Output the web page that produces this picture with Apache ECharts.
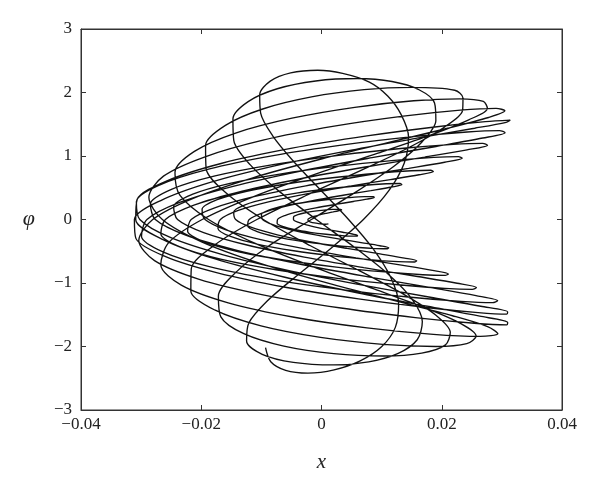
<!DOCTYPE html>
<html>
<head>
<meta charset="utf-8">
<script src="https://cdn.jsdelivr.net/npm/echarts@6/dist/echarts.min.js"></script>
<style>html,body{margin:0;padding:0;background:#fff}#c{width:600px;height:483px}</style>
</head>
<body>
<div id="c"></div>
<script>
// Axis ticks
const xTicks = [-0.04, -0.02, 0, 0.02, 0.04];
const yTicks = [-3, -2, -1, 0, 1, 2, 3];

// Trajectory (x, φ), in time order
const innerLoops = [
  [0.00115,-0.07],[0.00105,-0.0742],[0.00072,-0.0751],[0.00018,-0.0723],[-0.00049,-0.0654],[-0.0012,-0.0545],[-0.0018,-0.0397],[-0.0022,-0.0213],[-0.00226,0],[-0.00195,0.0235],[-0.00128,0.0483],[-0.00031,0.0733],[0.00081,0.0972],[0.00191,0.119],[0.00281,0.1375],[0.00334,0.1514],[0.00336,0.16],
  [0.00287,0.1631],[0.00186,0.1594],[0.00045,0.1487],[-0.00115,0.1308],[-0.0027,0.1063],[-0.00394,0.0756],[-0.00465,0.0398],[-0.00466,0],[-0.00393,-0.0422],[-0.00252,-0.0852],[-0.00061,-0.1271],[0.00152,-0.1662],[0.00354,-0.2006],[0.00513,-0.2287],[0.00599,-0.2489],[0.00596,-0.26],
  [0.00499,-0.2612],[0.00318,-0.2518],[0.00076,-0.2318],[-0.0019,-0.2015],[-0.00441,-0.1618],[-0.00634,-0.1139],[-0.00738,-0.0593],[-0.00731,0],[-0.00609,0.0617],[-0.00385,0.1234],[-0.00092,0.1827],[0.00229,0.2369],[0.00528,0.2838],[0.00757,0.321],[0.00877,0.347],[0.00865,0.36],
  [0.00716,0.3593],[0.00451,0.3441],[0.00107,0.315],[-0.00265,0.2722],[-0.00607,0.2174],[-0.00866,0.1521],[-0.00999,0.0788],[-0.00981,0],[-0.0081,-0.0812],[-0.00509,-0.1617],[-0.00121,-0.2382],[0.00298,-0.3076],[0.00682,-0.3669],[0.00971,-0.4134],[0.01118,-0.4451],[0.01096,-0.46],
  [0.00903,-0.4577],[0.00566,-0.4374],[0.00134,-0.3992],[-0.00329,-0.3442],[-0.00753,-0.2741],[-0.0107,-0.1914],[-0.01228,-0.0989],[-0.01202,0],[-0.00989,0.1015],[-0.0062,0.2016],[-0.00146,0.2965],[0.0036,0.382],[0.00821,0.4548],[0.01166,0.5115],[0.01337,0.5495],[0.01307,0.567]
];
const growingLoops = [
  [0.01077,0.5624],[0.00674,0.5358],[0.00159,0.4875],[-0.00392,0.4192],[-0.00895,0.3329],[-0.01272,0.2318],[-0.0146,0.1194],[-0.01428,0],[-0.01175,-0.1219],[-0.00735,-0.2416],[-0.00173,-0.3544],[0.00427,-0.4556],[0.00973,-0.5411],[0.01381,-0.6071],[0.01584,-0.6508],[0.01548,-0.67],
  [0.01274,-0.6636],[0.00797,-0.6313],[0.00188,-0.5737],[-0.00463,-0.4925],[-0.01057,-0.3906],[-0.015,-0.2716],[-0.01722,-0.1398],[-0.01682,0],[-0.01384,0.1423],[-0.00865,0.2818],[-0.00204,0.4127],[0.00502,0.53],[0.01144,0.6287],[0.01622,0.7047],[0.01861,0.7546],[0.01817,0.776],
  [0.01492,0.7675],[0.00931,0.729],[0.00219,0.6615],[-0.00538,0.5671],[-0.01225,0.4492],[-0.01735,0.3119],[-0.01986,0.1603],[-0.01937,0],[-0.01589,-0.1628],[-0.00992,-0.3218],[-0.00233,-0.4709],[0.00573,-0.6039],[0.01303,-0.7155],[0.01845,-0.801],[0.0211,-0.8567],[0.02057,-0.88],
  [0.01686,-0.8699],[0.01052,-0.8258],[0.00247,-0.7489],[-0.00606,-0.6417],[-0.01377,-0.508],[-0.01947,-0.3526],[-0.02227,-0.1811],[-0.02168,0],[-0.01776,0.1838],[-0.01107,0.3631],[-0.0026,0.5309],[0.00637,0.6806],[0.01449,0.806],[0.02047,0.902],[0.02341,0.9642],[0.02278,0.99],
  [0.01866,0.9778],[0.01164,0.9274],[0.00273,0.8403],[-0.0067,0.7195],[-0.01522,0.5691],[-0.02152,0.3947],[-0.02459,0.2025],[-0.02394,0],[-0.0196,-0.2052],[-0.01222,-0.4052],[-0.00287,-0.592],[0.00703,-0.7584],[0.01597,-0.8975],[0.02256,-1.0036],[0.02578,-1.0721],[0.02509,-1.10],
  [0.02051,-1.085],[0.01276,-1.0278],[0.00299,-0.9303],[-0.00732,-0.7955],[-0.0166,-0.6285],[-0.02342,-0.4353],[-0.02672,-0.2232],[-0.02596,0],[-0.02122,0.2256],[-0.0132,0.4449],[-0.00309,0.6494],[0.00757,0.8308],[0.01716,0.9822],[0.02421,1.0971],[0.02761,1.1709],[0.02682,1.20],
  [0.02192,1.1837],[0.01363,1.1214],[0.00319,1.0149],[-0.00781,0.868],[-0.0177,0.6858],[-0.02496,0.475],[-0.02846,0.2435],[-0.02764,0],[-0.02259,-0.2462],[-0.01404,-0.4856],[-0.00329,-0.7087],[0.00804,-0.9069],[0.01823,-1.0721],[0.0257,-1.1976],[0.0293,-1.2781],[0.02845,-1.31],
  [0.02323,-1.2903],[0.01442,-1.2207],[0.00338,-1.1033],[-0.00824,-0.9422],[-0.01866,-0.7434],[-0.02628,-0.5143],[-0.02994,-0.2633],[-0.02903,0],[-0.0237,0.2655],[-0.01471,0.5229],[-0.00344,0.7622],[0.00841,0.974],[0.01904,1.1501],[0.02681,1.2831],[0.03053,1.3676],[0.02961,1.40],
  [0.02422,1.3786],[0.01521,1.3039],[0.0039,1.1781],[-0.00802,1.0059],[-0.01878,0.7935],[-0.02676,0.5487],[-0.03079,0.2808],[-0.03022,0],[-0.02515,-0.283],[-0.01632,-0.5573],[-0.00503,-0.8122],[0.00705,-1.0377],[0.0181,-1.2249],[0.02649,-1.3663],[0.03096,-1.4559],[0.03081,-1.49],
  [0.02605,-1.466],[0.0174,-1.3853],[0.00615,-1.2507],[-0.00602,-1.0669],[-0.0173,-0.8408],[-0.02602,-0.581],[-0.03087,-0.2971],[-0.03112,0],[-0.02673,0.2989],[-0.01837,0.5882],[-0.00725,0.8565],[0.00495,1.0934],[0.01643,1.2896],[0.02547,1.4372],[0.03071,1.5304],[0.03139,1.565]
];
const wideningLoops = [
  [0.02724,1.5407],[0.01885,1.4569],[0.00755,1.3161],[-0.00489,1.1234],[-0.01655,0.886],[-0.0256,0.6125],[-0.03066,0.3134],[-0.0309,0],[-0.02636,-0.3158],[-0.01769,-0.6217],[-0.00626,-0.9058],[0.00614,-1.157],[0.01759,-1.3655],[0.02632,-1.5227],[0.03096,-1.6223],[0.03081,-1.66],
  [0.0254,-1.6336],[0.01561,-1.5441],[0.00323,-1.3943],[-0.00953,-1.1897],[-0.02046,-0.9379],[-0.02777,-0.6482],[-0.03039,-0.3316],[-0.02807,0],[-0.02134,0.3337],[-0.01142,0.6568],[0.00012,0.9567],[0.01152,1.2215],[0.02117,1.4411],[0.02778,1.6065],[0.0305,1.7109],[0.02903,1.75],
  [0.02309,1.7219],[0.01361,1.6273],[0.00211,1.4692],[-0.00955,1.2533],[-0.01936,0.9879],[-0.02628,0.6827],[-0.02871,0.3491],[-0.02647,0],[-0.01995,-0.3513],[-0.0102,-0.6913],[0.00122,-1.0067],[0.01247,-1.2852],[0.02179,-1.5159],[0.02772,-1.6896],[0.02933,-1.7992],[0.02642,-1.84],
  [0.01861,-1.8084],[0.00756,-1.7069],[-0.00458,-1.5393],[-0.01552,-1.3117],[-0.02332,-1.0327],[-0.02673,-0.7128],[-0.02542,-0.3641],[-0.01985,0],[-0.01118,0.3656],[-0.0009,0.7185],[0.00939,1.0452],[0.01822,1.3329],[0.02449,1.5705],[0.02759,1.7485],[0.02692,1.8599],[0.02297,1.90],
  [0.01535,1.8697],[0.00553,1.767],[-0.00491,1.5955],[-0.01429,1.3612],[-0.02114,1.073],[-0.02437,0.7415],[-0.02353,0.3792],[-0.01878,0],[-0.01092,-0.3817],[-0.00122,-0.751],[0.00873,-1.0938],[0.01738,-1.3965],[0.02333,-1.6474],[0.02572,-1.8363],[0.02416,-1.9555],[0.01897,-2.00],
  [0.01019,-1.9665],[-0.00016,-1.857],[-0.01006,-1.6755],[-0.01768,-1.4283],[-0.02173,-1.1251],[-0.02166,-0.7769],[-0.0177,-0.397],[-0.01075,0],[-0.00209,0.399],[0.00684,0.7845],[0.01471,1.1417],[0.02048,1.4566],[0.02346,1.7171],[0.02353,1.9125],[0.02216,2.0352],[0.01505,2.08]
];
const figureEightLoops = [
  [0.00708,2.0444],[-0.00166,1.9298],[-0.00978,1.7404],[-0.01598,1.4831],[-0.01928,1.1678],[-0.0192,0.8061],[-0.0158,0.4118],[-0.00968,0],[-0.00184,-0.4135],[0.00642,-0.8128],[0.01376,-1.1824],[0.01904,-1.5079],[0.02142,-1.7768],[0.02057,-1.9783],[0.01667,-2.1044],[0.0104,-2.15],
  [0.00204,-2.1131],[-0.00626,-1.9945],[-0.01292,-1.7986],[-0.01674,-1.5327],[-0.01715,-1.2067],[-0.01424,-0.8329],[-0.0089,-0.4254],[-0.00169,0],[0.00562,0.4272],[0.01205,0.8396],[0.01671,1.2212],[0.01902,1.5574],[0.0188,1.835],[0.01622,2.043],[0.01172,2.1731],[0.00595,2.22],
  [-0.00096,2.1817],[-0.00736,2.0592],[-0.0122,1.8568],[-0.01473,1.5821],[-0.01459,1.2456],[-0.01184,0.8597],[-0.00699,0.4391],[-0.00086,0],[0.00554,-0.4408],[0.01115,-0.8663],[0.0151,-1.2602],[0.01677,-1.6069],[0.01592,-1.8932],[0.01276,-2.1077],[0.00785,-2.2417],[0.00201,-2.29],
  [-0.00468,-2.2498],[-0.00986,-2.1226],[-0.01246,-1.9135],[-0.01209,-1.6299],[-0.00903,-1.2827],[-0.0041,-0.885],[0.00159,-0.4519],[0.00697,0],[0.0112,0.4534],[0.01377,0.8907],[0.01448,1.2952],[0.01325,1.6511],[0.01101,1.9447],[0.00796,2.1642],[0.00351,2.3012],[-0.00062,2.35],
  [-0.00513,2.3092],[-0.00852,2.1793],[-0.01028,1.9649],[-0.01012,1.6741],[-0.00812,1.3178],[-0.0046,0.9094],[-0.00015,0.4645],[0.0045,0],[0.00862,-0.4662],[0.01154,-0.9161],[0.01283,-1.3324],[0.01228,-1.6988],[0.01003,-2.0013],[0.00643,-2.2278],[0.0021,-2.3692],[-0.00226,-2.42],
  [-0.00596,-2.376],[-0.00844,-2.2405],[-0.00931,-2.0185]
];

const trajectory = innerLoops.concat(growingLoops, wideningLoops, figureEightLoops);

const serif = '"Liberation Serif","DejaVu Serif",serif';
const fmtX = v => {
  if (Math.abs(v) < 1e-9) return '0';
  return (v < 0 ? '\u2212' : '') + Math.abs(v).toFixed(2);
};
const fmtY = v => (v < 0 ? '\u2212' : '') + Math.abs(v);

const chart = echarts.init(document.getElementById('c'), null, {renderer: 'canvas', width: 600, height: 483});
const axisCommon = {
  type: 'value',
  axisLine: {show: true, onZero: false, lineStyle: {color: '#333', width: 1}},
  axisTick: {show: true, inside: true, length: 5, lineStyle: {color: '#333'}},
  splitLine: {show: false}
};
chart.setOption({
  animation: false,
  backgroundColor: '#ffffff',
  grid: {left: 81, right: 38, top: 29, bottom: 73, show: true, borderColor: '#333', borderWidth: 1, backgroundColor: 'transparent'},
  xAxis: [
    Object.assign({}, axisCommon, {
      min: xTicks[0], max: xTicks[xTicks.length - 1], interval: 0.02, position: 'bottom',
      axisLabel: {formatter: fmtX, color: '#222', fontFamily: serif, fontSize: 17, margin: 6},
      name: 'x', nameLocation: 'middle', nameGap: 42,
      nameTextStyle: {fontFamily: serif, fontStyle: 'italic', fontSize: 21, color: '#222'}
    }),
    Object.assign({}, axisCommon, {
      min: xTicks[0], max: xTicks[xTicks.length - 1], interval: 0.02, position: 'top',
      axisLabel: {show: false}
    })
  ],
  yAxis: [
    Object.assign({}, axisCommon, {
      min: yTicks[0], max: yTicks[yTicks.length - 1], interval: 1, position: 'left',
      axisLabel: {formatter: fmtY, color: '#222', fontFamily: serif, fontSize: 17, margin: 9},
      name: '\u03C6', nameLocation: 'middle', nameGap: 46, nameRotate: 0,
      nameTextStyle: {fontFamily: serif, fontStyle: 'italic', fontSize: 22, color: '#222'}
    }),
    Object.assign({}, axisCommon, {
      min: yTicks[0], max: yTicks[yTicks.length - 1], interval: 1, position: 'right',
      axisLabel: {show: false}
    })
  ],
  series: [{
    type: 'line',
    xAxisIndex: 0, yAxisIndex: 0,
    data: trajectory,
    showSymbol: false,
    symbol: 'none',
    smooth: 0.3,
    clip: true,
    silent: true,
    lineStyle: {color: '#111', width: 1.35}
  }]
});
</script>
</body>
</html>
